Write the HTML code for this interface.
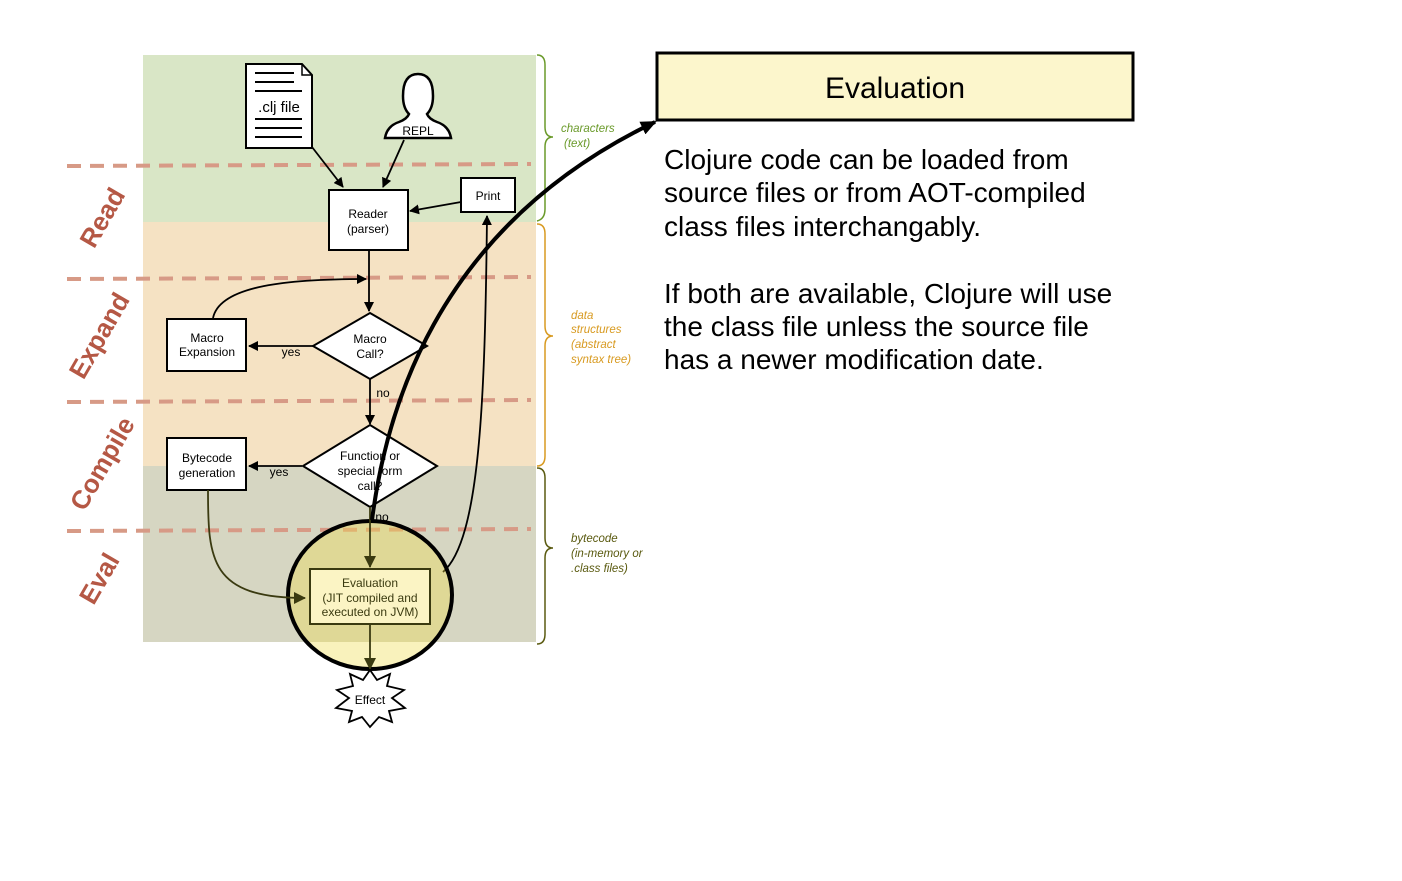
<!DOCTYPE html>
<html><head><meta charset="utf-8"><style>
body{margin:0;background:#fff;width:1402px;height:876px;overflow:hidden;font-family:"Liberation Sans",sans-serif}
svg text{font-family:"Liberation Sans",sans-serif}
</style></head><body>
<svg width="1402" height="876" viewBox="0 0 1402 876" xmlns="http://www.w3.org/2000/svg">
<defs>
<marker id="a" markerWidth="10" markerHeight="10" refX="9" refY="5" orient="auto" markerUnits="userSpaceOnUse"><path d="M0,0 L10,5 L0,10 z" fill="#000"/></marker>
<marker id="ad" markerWidth="12" markerHeight="12" refX="11" refY="6" orient="auto" markerUnits="userSpaceOnUse"><path d="M0,0 L12,6 L0,12 z" fill="#3a3a10"/></marker>
<marker id="ab" markerWidth="16" markerHeight="14" refX="14" refY="7" orient="auto" markerUnits="userSpaceOnUse"><path d="M0,0 L16,7 L0,14 z" fill="#000"/></marker>
</defs>
<rect x="143" y="55" width="393" height="167" fill="#d9e6c6"/>
<rect x="143" y="222" width="393" height="244" fill="#f5e2c3"/>
<rect x="143" y="466" width="393" height="176" fill="#d6d6c2"/>
<g stroke="#d79a86" stroke-width="4" stroke-dasharray="14 9">
<line x1="67" y1="166" x2="531" y2="164"/><line x1="67" y1="279" x2="531" y2="277"/>
<line x1="67" y1="402" x2="531" y2="400"/><line x1="67" y1="531" x2="531" y2="529"/></g>
<g fill="#b55845" font-weight="bold" font-size="26">
<text transform="translate(110,222) rotate(-60)" text-anchor="middle">Read</text>
<text transform="translate(107,340) rotate(-60)" text-anchor="middle">Expand</text>
<text transform="translate(110,468) rotate(-60)" text-anchor="middle">Compile</text>
<text transform="translate(107,583) rotate(-60)" text-anchor="middle">Eval</text></g>
<g fill="none" stroke-width="1.5">
<path d="M537,55 q8,0 8,10 v62 q0,10 8,10 q-8,0 -8,10 v62 q0,10 -8,12" stroke="#6a9a2a"/>
<path d="M537,224 q8,0 8,10 v92 q0,10 8,10 q-8,0 -8,10 v110 q0,10 -8,10" stroke="#d89a20"/>
<path d="M537,468 q8,0 8,10 v60 q0,10 8,10 q-8,0 -8,10 v76 q0,10 -8,10" stroke="#5a5a10"/></g>
<g font-style="italic" font-size="11.5">
<text x="561" y="132" fill="#6a9a2a">characters</text><text x="564" y="147" fill="#6a9a2a">(text)</text>
<g fill="#d89a20"><text x="571" y="319">data</text><text x="571" y="333">structures</text><text x="571" y="348">(abstract</text><text x="571" y="363">syntax tree)</text></g>
<g fill="#5a5a10"><text x="571" y="542">bytecode</text><text x="571" y="557">(in-memory or</text><text x="571" y="572">.class files)</text></g></g>
<path d="M246,64 H302 L312,75 V148 H246 Z" fill="#fff" stroke="#000" stroke-width="2"/>
<path d="M302,64 V75 H312" fill="none" stroke="#000" stroke-width="1.5"/>
<g stroke="#000" stroke-width="2"><line x1="255" y1="73" x2="294" y2="73"/><line x1="255" y1="82" x2="294" y2="82"/><line x1="255" y1="91" x2="302" y2="91"/><line x1="255" y1="119" x2="302" y2="119"/><line x1="255" y1="128" x2="302" y2="128"/><line x1="255" y1="137" x2="302" y2="137"/></g>
<text x="279" y="112" font-size="15" text-anchor="middle">.clj file</text>
<path d="M385,138 q2,-12 14,-16 q8,-3 10,-8 q-6,-6 -6,-18 q0,-22 15,-22 q15,0 15,22 q0,12 -6,18 q2,5 10,8 q12,4 14,16 z" fill="#fff" stroke="#000" stroke-width="2.5"/>
<text x="418" y="135" font-size="12" text-anchor="middle">REPL</text>
<rect x="329" y="190" width="79" height="60" fill="#fff" stroke="#000" stroke-width="2"/>
<text x="368" y="218" font-size="12" text-anchor="middle">Reader</text><text x="368" y="233" font-size="12" text-anchor="middle">(parser)</text>
<rect x="461" y="178" width="54" height="34" fill="#fff" stroke="#000" stroke-width="2"/>
<text x="488" y="200" font-size="12" text-anchor="middle">Print</text>
<g stroke="#000" stroke-width="1.8" fill="none" marker-end="url(#a)">
<line x1="312" y1="147" x2="343" y2="187"/><line x1="404" y1="140" x2="383" y2="187"/>
<line x1="461" y1="202" x2="410" y2="211"/>
<line x1="369" y1="250" x2="369" y2="311"/>
<path d="M213,318 C220,285 290,279 366,279"/>
<line x1="314" y1="346" x2="249" y2="346"/>
<line x1="370" y1="378" x2="370" y2="424"/>
<line x1="302" y1="466" x2="249" y2="466"/>
<path d="M443,572 C480,540 485,400 487,216"/>
</g>
<rect x="167" y="319" width="79" height="52" fill="#fff" stroke="#000" stroke-width="2"/>
<text x="207" y="342" font-size="12" text-anchor="middle">Macro</text><text x="207" y="356" font-size="12" text-anchor="middle">Expansion</text>
<path d="M370,313 L427,346 L370,379 L313,346 Z" fill="#fff" stroke="#000" stroke-width="2"/>
<text x="370" y="343" font-size="12" text-anchor="middle">Macro</text><text x="370" y="358" font-size="12" text-anchor="middle">Call?</text>
<text x="291" y="356" font-size="12" text-anchor="middle">yes</text>
<text x="383" y="397" font-size="12" text-anchor="middle">no</text>
<rect x="167" y="438" width="79" height="52" fill="#fff" stroke="#000" stroke-width="2"/>
<text x="207" y="462" font-size="12" text-anchor="middle">Bytecode</text><text x="207" y="477" font-size="12" text-anchor="middle">generation</text>
<path d="M370,425 L437,466 L370,507 L303,466 Z" fill="#fff" stroke="#000" stroke-width="2"/>
<text x="370" y="460" font-size="12" text-anchor="middle">Function or</text><text x="370" y="475" font-size="12" text-anchor="middle">special form</text><text x="370" y="490" font-size="12" text-anchor="middle">call?</text>
<text x="279" y="476" font-size="12" text-anchor="middle">yes</text>
<text x="382" y="521" font-size="12" text-anchor="middle">no</text>
<ellipse cx="370" cy="595" rx="82" ry="74" fill="rgba(240,220,80,0.38)" stroke="#000" stroke-width="4"/>
<g stroke="#3a3a10" stroke-width="1.8" fill="none" marker-end="url(#ad)">
<path d="M208,490 C208,560 210,598 305,598"/>
<line x1="370" y1="507" x2="370" y2="567"/>
<line x1="370" y1="625" x2="370" y2="669"/></g>
<rect x="310" y="569" width="120" height="55" fill="#fbf4c4" stroke="#3a3a10" stroke-width="2"/>
<g font-size="12" text-anchor="middle" fill="#3a3a10"><text x="370" y="587">Evaluation</text><text x="370" y="602">(JIT compiled and</text><text x="370" y="616">executed on JVM)</text></g>
<path d="M370,670 L377,680 L390,674 L387,686 L404,690 L392,698 L405,708 L389,711 L392,722 L379,717 L370,727 L362,717 L349,722 L352,711 L336,708 L349,698 L337,690 L353,686 L350,674 L363,680 Z" fill="#fff" stroke="#000" stroke-width="1.8"/>
<text x="370" y="704" font-size="12" text-anchor="middle">Effect</text>
<path d="M372,520 C385,420 430,230 655,122" fill="none" stroke="#000" stroke-width="4" marker-end="url(#ab)"/>
<rect x="657" y="53" width="476" height="67" fill="#fcf6cc" stroke="#000" stroke-width="3"/>
<text x="895" y="98" font-size="30" text-anchor="middle">Evaluation</text>
<g font-size="28"><text x="664" y="169">Clojure code can be loaded from</text><text x="664" y="202">source files or from AOT-compiled</text><text x="664" y="236">class files interchangably.</text>
<text x="664" y="303">If both are available, Clojure will use</text><text x="664" y="336">the class file unless the source file</text><text x="664" y="369">has a newer modification date.</text></g>
</svg>
</body></html>
